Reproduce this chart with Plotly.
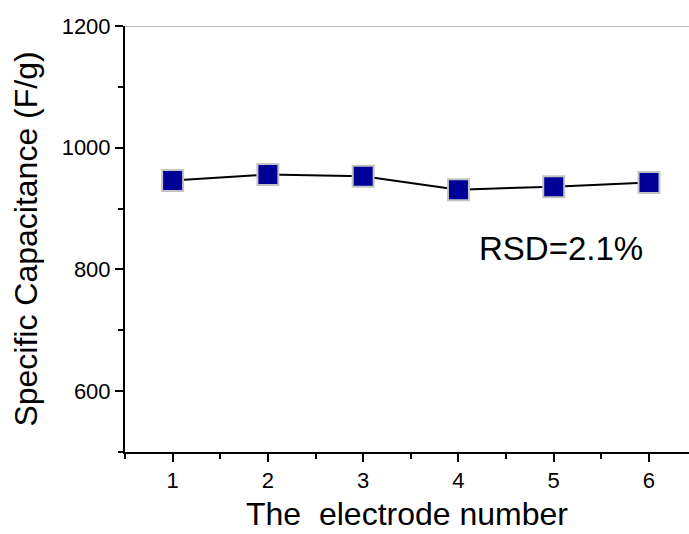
import plotly.graph_objects as go

electrodes = [1, 2, 3, 4, 5, 6]
capacitance = [946, 956, 953, 931, 936, 943]
x_ticks = [1, 2, 3, 4, 5, 6]
y_ticks = [600, 800, 1000, 1200]

fig = go.Figure()
fig.add_trace(go.Scatter(
    x=electrodes, y=capacitance, mode="lines+markers",
    line=dict(color="black", width=2),
    marker=dict(symbol="square", size=21, color="#000099",
                line=dict(color="#c4c4c4", width=2)),
    showlegend=False, cliponaxis=False,
))

font = "Liberation Sans, Arial, sans-serif"
fig.update_layout(
    width=689, height=534,
    margin=dict(l=125, r=0, t=26, b=82),
    paper_bgcolor="white", plot_bgcolor="white",
    font=dict(family=font, color="black"),
    xaxis=dict(
        range=[0.5, 6.42], tickvals=x_ticks, ticks="outside", ticklen=8, tickwidth=2,
        tickcolor="black", showline=True, linecolor="black", linewidth=2,
        showgrid=False, zeroline=False, tickfont=dict(size=22),
        minor=dict(dtick=0.5, tick0=0.5, ticks="outside", ticklen=5, tickwidth=2, tickcolor="black"),
        title=dict(text="The  electrode number", font=dict(size=32), standoff=10),
    ),
    yaxis=dict(
        range=[500, 1200], tickvals=y_ticks, ticks="outside", ticklen=8, tickwidth=2,
        tickcolor="black", showline=True, linecolor="black", linewidth=2,
        showgrid=False, zeroline=False, tickfont=dict(size=22),
        minor=dict(dtick=100, tick0=500, ticks="outside", ticklen=5, tickwidth=2, tickcolor="black"),
        title=dict(text="Specific Capacitance (F/g)", font=dict(size=32), standoff=14),
    ),
    shapes=[dict(type="line", xref="paper", yref="y", x0=0, x1=1, y0=1200, y1=1200,
                 line=dict(color="#c0c0c0", width=2))],
    annotations=[dict(text="RSD=2.1%", x=5.08, y=835, xref="x", yref="y",
                      showarrow=False, font=dict(size=33), xanchor="center")],
)

fig.write_html("out.html", config={"displayModeBar": False},
               post_script="document.body.style.margin='0';document.body.style.overflow='hidden';")
